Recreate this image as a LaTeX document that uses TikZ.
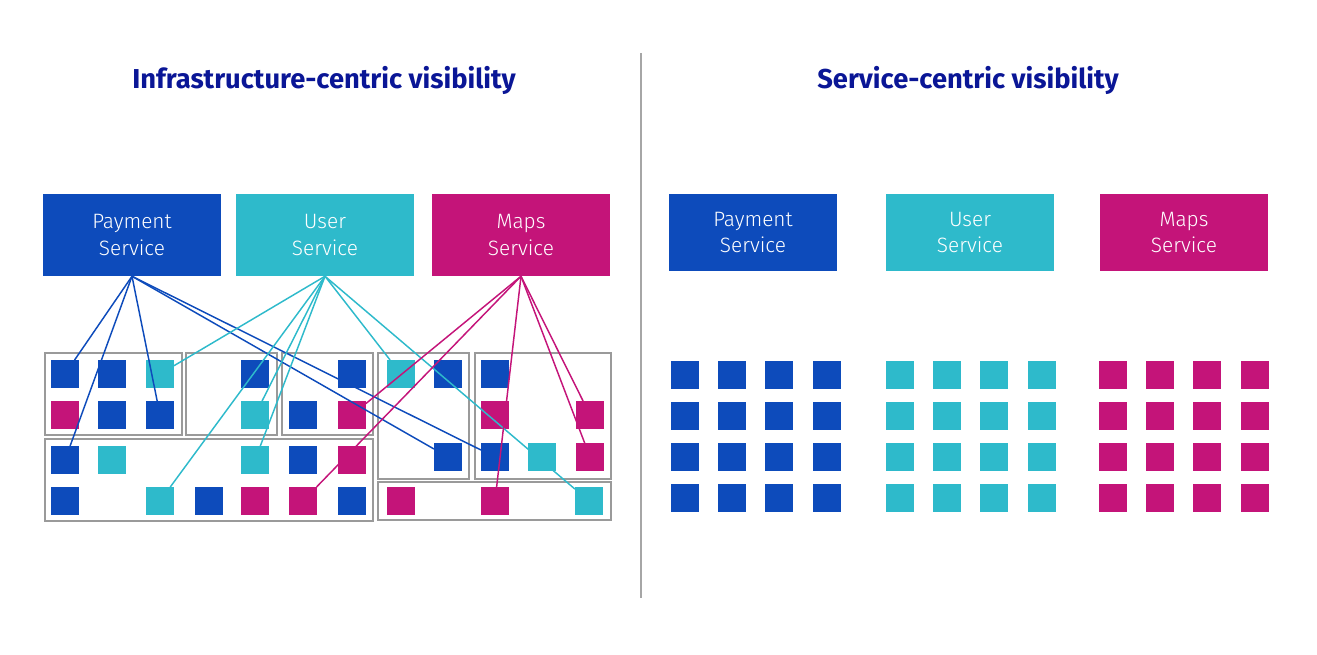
\documentclass[tikz,border=0pt]{standalone}
\usepackage{fontspec}
\setmainfont{Fira Sans}
\newfontfamily\lightfont{Fira Sans Light}

\definecolor{payblue}{RGB}{13,75,187}
\definecolor{usercyan}{RGB}{46,186,203}
\definecolor{mapsmag}{RGB}{196,20,121}
\definecolor{titlenavy}{RGB}{10,22,150}
\definecolor{hostgray}{RGB}{154,154,154}

\tikzset{
    title/.style={text=titlenavy, font=\fontsize{20.5}{24}\selectfont\bfseries},
    svc/.style={minimum width=133.5pt, minimum height=61.5pt, inner sep=0pt, text=white, align=center, font=\lightfont\fontsize{15.6}{20}\selectfont},
    svcr/.style={svc, minimum width=126pt, minimum height=57.75pt},
    sq/.style={minimum size=21pt, inner sep=0pt, outer sep=0pt},
    paysq/.style={sq, fill=payblue},
    usersq/.style={sq, fill=usercyan},
    mapssq/.style={sq, fill=mapsmag},
    host/.style={draw=hostgray, line width=1.3pt},
    link/.style={line width=1.1pt}
}

\begin{document}
\begin{tikzpicture}[x=0.75pt, y=-0.75pt]

    \useasboundingbox (0,0) rectangle (1317,655);

    % Titles
    \node[title] (lefttitle) at (324,80) {Infrastructure-centric visibility};
    \node[title] (righttitle) at (968,80) {Service-centric visibility};

    % Divider
    \draw[gray!70, line width=1.1pt] (641,53) -- (641,598);

    % Services, left
    \node[svc, fill=payblue] (pay) at (132,235) {Payment\\Service};
    \node[svc, fill=usercyan] (user) at (325,235) {User\\Service};
    \node[svc, fill=mapsmag] (maps) at (521,235) {Maps\\Service};

    % Hosts
    \draw[host] (45,353) rectangle (182,435);
    \draw[host] (186,353) rectangle (277,435);
    \draw[host] (282,353) rectangle (373,435);
    \draw[host] (45,439) rectangle (373,521);
    \draw[host] (378,353) rectangle (469,479);
    \draw[host] (475,353) rectangle (611,479);
    \draw[host] (378,482) rectangle (611,520);

    % Instances on the hosts
    \foreach \n/\x/\y/\s in {
        a1/65/374/paysq, a2/112/374/paysq, a3/160/374/usersq,
        a4/65/415/mapssq, a5/112/415/paysq, a6/160/415/paysq,
        b1/255/374/paysq, b2/255/415/usersq,
        c1/352/374/paysq, c2/303/415/paysq, c3/352/415/mapssq,
        d1/65/460/paysq, d2/112/460/usersq, d3/255/460/usersq, d4/303/460/paysq, d5/352/460/mapssq,
        d6/65/501/paysq, d7/160/501/usersq, d8/209/501/paysq, d9/255/501/mapssq, d10/303/501/mapssq, d11/352/501/paysq,
        e1/401/374/usersq, e2/448/374/paysq, e3/448/457/paysq,
        f1/495/374/paysq, f2/495/415/mapssq, f3/590/415/mapssq,
        f4/495/457/paysq, f5/542/457/usersq, f6/590/457/mapssq,
        g1/401/501/mapssq, g2/495/501/mapssq, g3/589/501/usersq}
        \node[\s] (\n) at (\x,\y) {};

    % Links
    \foreach \t in {a1,d1,a6,f4,e3}
        \draw[link, payblue] (pay.south) -- (\t);
    \foreach \t in {a3,d7,b2,d3,e1,g3}
        \draw[link, usercyan] (user.south) -- (\t);
    \foreach \t in {c3,d10,g2,f3,f6}
        \draw[link, mapsmag] (maps.south) -- (\t);

    % Services, right
    \node[svcr, fill=payblue] (rpay) at (753,232.5) {Payment\\Service};
    \node[svcr, fill=usercyan] (ruser) at (970,232.5) {User\\Service};
    \node[svcr, fill=mapsmag] (rmaps) at (1184,232.5) {Maps\\Service};

    % Instances per service
    \foreach \i in {0,...,3}
        \foreach \j in {0,...,3} {
            \node[paysq] (rp\i\j) at ({685+47.2*\i},{375+41*\j}) {};
            \node[usersq] (ru\i\j) at ({900+47.2*\i},{375+41*\j}) {};
            \node[mapssq] (rm\i\j) at ({1113+47.2*\i},{375+41*\j}) {};
        }

\end{tikzpicture}
\end{document}
